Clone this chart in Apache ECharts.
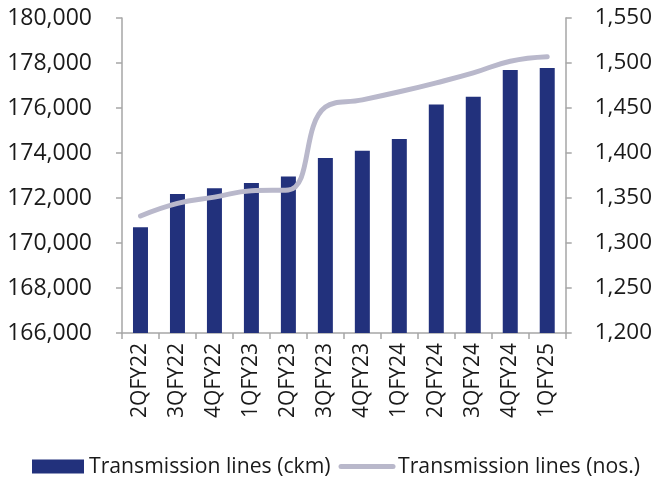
<!DOCTYPE html>
<html>
<head>
<meta charset="utf-8">
<script src="https://cdn.jsdelivr.net/npm/echarts@6/dist/echarts.min.js"></script>
<style>html,body{margin:0;padding:0;background:#fff}#c{width:655px;height:482px}</style>
</head>
<body>
<div id="c"></div>
<script>
const categories = ['2QFY22','3QFY22','4QFY22','1QFY23','2QFY23','3QFY23','4QFY23','1QFY24','2QFY24','3QFY24','4QFY24','1QFY25'];
const ckmValues = [170700, 172180, 172430, 172670, 172960, 173780, 174100, 174620, 176160, 176500, 177690, 177780];
const nosValues = [1330, 1344, 1351, 1358, 1359, 1451, 1459, 1468, 1478, 1489, 1502, 1507];
const leftTicks = {min: 166000, max: 180000, interval: 2000};
const rightTicks = {min: 1200, max: 1550, interval: 50};

const FONT = '"Open Sans", "DejaVu Sans", sans-serif';
const axisColor = '#a6a6a6';
const fmt = v => v.toLocaleString('en-US');

const chart = echarts.init(document.getElementById('c'), null, {renderer: 'canvas'});
chart.setOption({
  animation: false,
  grid: {left: 122, right: 89, top: 18, bottom: 149, containLabel: false},
  xAxis: {
    type: 'category',
    data: categories,
    boundaryGap: true,
    axisLine: {lineStyle: {color: axisColor, width: 1.5}},
    axisTick: {show: true, alignWithLabel: false, length: 6, lineStyle: {color: axisColor, width: 1.5}},
    axisLabel: {rotate: 90, color: '#1a1a1a', fontSize: 21, fontFamily: FONT, margin: 10, interval: 0}
  },
  yAxis: [
    {
      type: 'value', min: leftTicks.min, max: leftTicks.max, interval: leftTicks.interval,
      splitLine: {show: false},
      axisLine: {show: true, lineStyle: {color: axisColor, width: 1.5}},
      axisTick: {show: true, length: 6, lineStyle: {color: axisColor, width: 1.5}},
      axisLabel: {color: '#1a1a1a', fontSize: 23, fontFamily: FONT, margin: 30, formatter: fmt}
    },
    {
      type: 'value', min: rightTicks.min, max: rightTicks.max, interval: rightTicks.interval,
      position: 'right',
      splitLine: {show: false},
      axisLine: {show: true, lineStyle: {color: axisColor, width: 1.5}},
      axisTick: {show: true, length: 6, lineStyle: {color: axisColor, width: 1.5}},
      axisLabel: {color: '#1a1a1a', fontSize: 22.5, fontFamily: FONT, margin: 29, formatter: fmt}
    }
  ],
  legend: {
    bottom: 0, left: 27,
    itemWidth: 52, itemHeight: 14, itemGap: 8,
    textStyle: {color: '#1a1a1a', fontSize: 21.2, fontFamily: FONT},
    data: [
      {name: 'Transmission lines (ckm)', icon: 'rect'},
      {name: 'Transmission lines (nos.)', itemStyle: {opacity: 0}, lineStyle: {width: 5, cap: 'round', color: '#b9b8cb'}}
    ]
  },
  series: [
    {
      name: 'Transmission lines (ckm)',
      type: 'bar',
      data: ckmValues,
      barWidth: 15,
      itemStyle: {color: '#22317c'}
    },
    {
      name: 'Transmission lines (nos.)',
      type: 'line',
      yAxisIndex: 1,
      data: nosValues,
      smooth: 0.45,
      symbol: 'none',
      lineStyle: {color: '#b9b8cb', width: 5, cap: 'round'},
      itemStyle: {color: '#b9b8cb'}
    }
  ]
});
</script>
</body>
</html>
